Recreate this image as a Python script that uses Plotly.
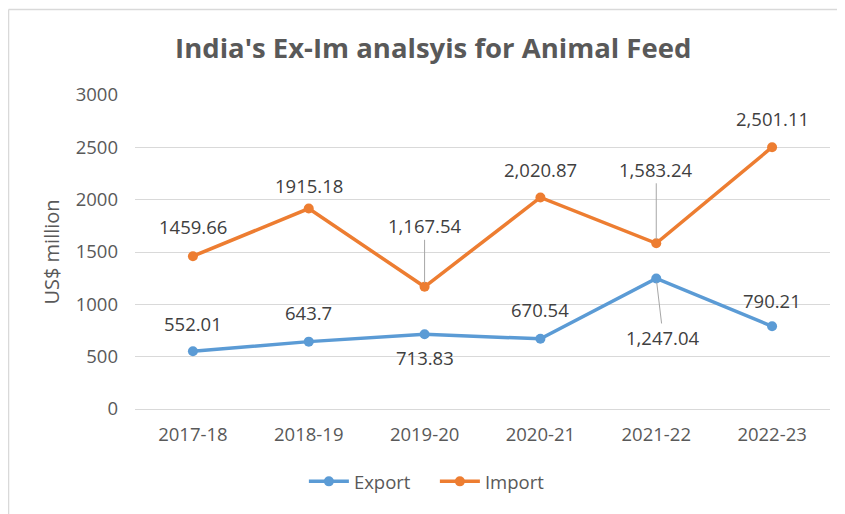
import plotly.graph_objects as go

years = ["2017-18", "2018-19", "2019-20", "2020-21", "2021-22", "2022-23"]
export_vals = [552.01, 643.7, 713.83, 670.54, 1247.04, 790.21]
import_vals = [1459.66, 1915.18, 1167.54, 2020.87, 1583.24, 2501.11]
export_text = ["552.01", "643.7", "713.83", "670.54", "1,247.04", "790.21"]
import_text = ["1459.66", "1915.18", "1,167.54", "2,020.87", "1,583.24", "2,501.11"]

FONT = "Open Sans"
GREY = "#595959"

fig = go.Figure()
fig.add_trace(go.Scatter(x=years, y=export_vals, name="Export", mode="lines+markers",
                         line=dict(color="#5B9BD5", width=3.5), marker=dict(size=10, color="#5B9BD5")))
fig.add_trace(go.Scatter(x=years, y=import_vals, name="Import", mode="lines+markers",
                         line=dict(color="#ED7D31", width=3.5), marker=dict(size=10, color="#ED7D31")))

# label shift in px above the point (negative = below)
exp_shift = [28, 29, -23, 29, None, 26]
imp_shift = [30, 23, None, 28, None, 29]
leaders = {("imp", 2): (0, -61), ("imp", 4): (0, -74), ("exp", 4): (7, 59)}

annotations = []
for key, vals, texts, shifts in [("exp", export_vals, export_text, exp_shift),
                                 ("imp", import_vals, import_text, imp_shift)]:
    for i, (x, v, t) in enumerate(zip(years, vals, texts)):
        if (key, i) in leaders:
            ax, ay = leaders[(key, i)]
            annotations.append(dict(x=x, y=v, text=t, showarrow=True, arrowhead=0, arrowwidth=1,
                                    arrowcolor="#A6A6A6", ax=ax, ay=ay, standoff=4,
                                    font=dict(size=18.5, color="#404040", family=FONT)))
        else:
            annotations.append(dict(x=x, y=v, text=t, showarrow=False, yshift=shifts[i],
                                    font=dict(size=18.5, color="#404040", family=FONT)))

# page body has an 8px margin, so the figure is 8px smaller than the window
fig.update_layout(
    width=837, height=506,
    margin=dict(l=127, r=15, t=87, b=105, autoexpand=False),
    paper_bgcolor="white", plot_bgcolor="white",
    title=dict(text="India's Ex-Im analsyis for Animal Feed", x=0.508, xanchor="center",
               y=0.921, yanchor="middle",
               font=dict(size=27.5, color=GREY, family=FONT, weight=700)),
    font=dict(family=FONT, color=GREY, size=14),
    xaxis=dict(range=[-0.5, 5.5], showgrid=False, showline=True, linecolor="#D9D9D9",
               linewidth=1, automargin=False, ticks="",
               tickfont=dict(size=18.5, color=GREY), ticklabelstandoff=9),
    yaxis=dict(range=[0, 3000], dtick=500, showgrid=True, gridcolor="#D9D9D9", gridwidth=1,
               zeroline=False, automargin=False, tickfont=dict(size=18.5, color=GREY),
               ticklabelstandoff=16,
               title=dict(text="US$ million", font=dict(size=20, color=GREY), standoff=10)),
    legend=dict(orientation="h", x=0.243, xanchor="left", y=-0.232, yanchor="middle",
                font=dict(size=18.5, color=GREY), itemwidth=40,
                entrywidth=76, entrywidthmode="pixels"),
    annotations=annotations,
    shapes=[
        dict(type="line", xref="paper", yref="paper", x0=-0.182, x1=1.05, y0=1.272, y1=1.272,
             line=dict(color="#D9D9D9", width=1.5)),
        dict(type="line", xref="paper", yref="paper", x0=-0.182, x1=-0.182, y0=1.272, y1=-0.4,
             line=dict(color="#D9D9D9", width=1.5)),
    ],
)

fig.write_html("out.html")
